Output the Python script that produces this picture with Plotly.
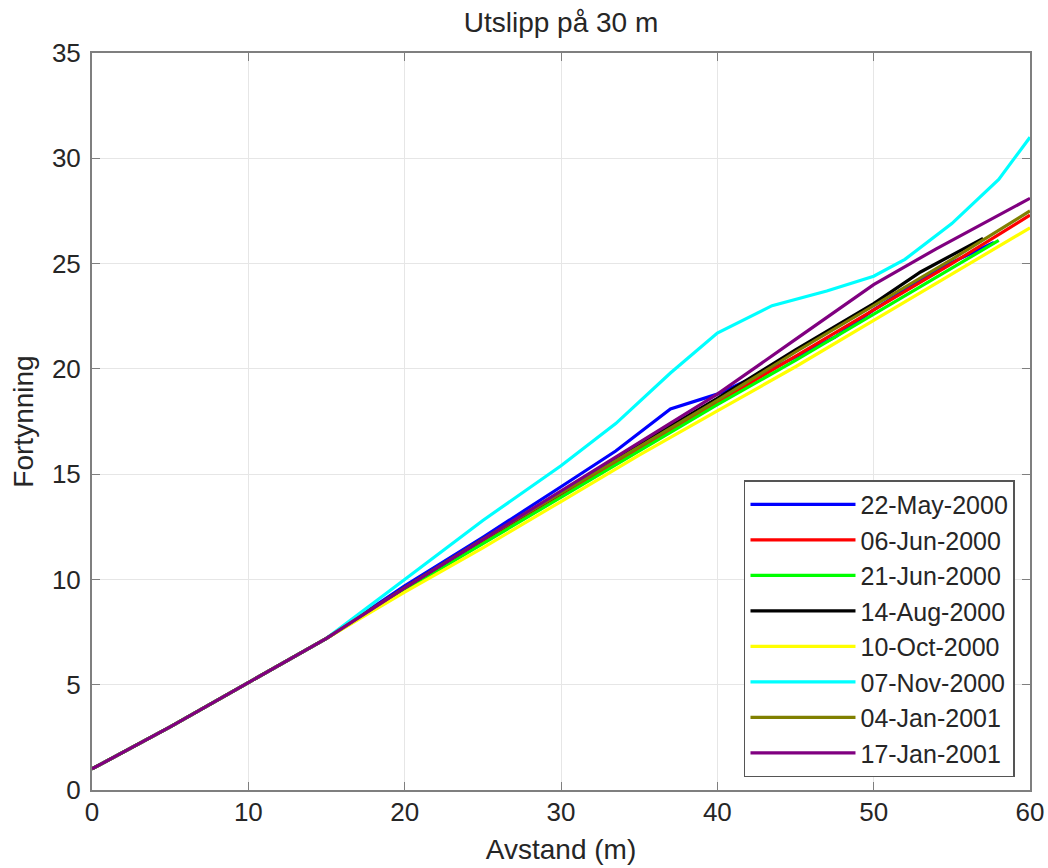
import plotly.graph_objects as go

title = "Utslipp på 30 m"
x_title = "Avstand (m)"
y_title = "Fortynning"

names = ["22-May-2000", "06-Jun-2000", "21-Jun-2000", "14-Aug-2000",
         "10-Oct-2000", "07-Nov-2000", "04-Jan-2001", "17-Jan-2001"]
colors = ["#0000ff", "#ff0000", "#00ff00", "#000000",
          "#ffff00", "#00ffff", "#808000", "#800080"]

x_may = [0, 5, 10, 15, 20, 25, 30, 33.5, 37, 40, 43.5, 47.5, 50, 54, 57.7]
y_may = [1.0, 3.0, 5.1, 7.2, 9.7, 12.0, 14.4, 16.1, 18.1, 18.8, 20.0, 21.5, 22.8, 24.7, 26.0]

x_jun06 = [0, 5, 10, 15, 20, 25, 30, 35, 40, 45, 50, 55, 60]
y_jun06 = [1.0, 3.0, 5.1, 7.2, 9.6, 11.8, 14.0, 16.2, 18.4, 20.6, 22.8, 25.0, 27.3]

x_jun21 = [0, 5, 10, 15, 20, 25, 30, 35, 40, 45, 50, 55, 58]
y_jun21 = [1.0, 3.0, 5.1, 7.2, 9.5, 11.7, 13.9, 16.1, 18.3, 20.4, 22.6, 24.8, 26.1]

x_aug = [0, 5, 10, 15, 20, 25, 30, 35, 40, 45, 50, 53, 57]
y_aug = [1.0, 3.0, 5.1, 7.2, 9.6, 11.9, 14.1, 16.4, 18.6, 20.9, 23.1, 24.6, 26.2]

x_oct = [0, 5, 10, 15, 20, 25, 30, 35, 40, 45, 50, 55, 60]
y_oct = [1.0, 3.0, 5.1, 7.2, 9.4, 11.5, 13.7, 15.9, 18.0, 20.1, 22.3, 24.5, 26.7]

x_nov = [0, 5, 10, 15, 20, 25, 30, 33.5, 37, 40, 43.5, 47, 50, 52, 55, 58, 60]
y_nov = [1.0, 3.0, 5.1, 7.2, 10.0, 12.8, 15.4, 17.4, 19.8, 21.7, 23.0, 23.7, 24.4, 25.2, 26.9, 29.0, 31.0]

x_jan04 = [0, 5, 10, 15, 20, 25, 30, 35, 40, 45, 50, 55, 60]
y_jan04 = [1.0, 3.0, 5.1, 7.2, 9.6, 11.9, 14.1, 16.3, 18.5, 20.8, 23.0, 25.2, 27.5]

x_jan17 = [0, 5, 10, 15, 20, 25, 30, 35, 40, 45, 50, 54, 57, 60]
y_jan17 = [1.0, 3.0, 5.1, 7.2, 9.6, 11.9, 14.2, 16.5, 18.8, 21.4, 24.0, 25.7, 26.9, 28.1]

xs = [x_may, x_jun06, x_jun21, x_aug, x_oct, x_nov, x_jan04, x_jan17]
ys = [y_may, y_jun06, y_jun21, y_aug, y_oct, y_nov, y_jan04, y_jan17]

x_ticks = [0, 10, 20, 30, 40, 50, 60]
y_ticks = [0, 5, 10, 15, 20, 25, 30, 35]

font_family = "Liberation Sans, Arial, sans-serif"
txt = "#262626"

fig = go.Figure()
for n, c, xv, yv in zip(names, colors, xs, ys):
    fig.add_trace(go.Scatter(x=xv, y=yv, mode="lines", name=n,
                             line=dict(color=c, width=3.2)))

axis_common = dict(showgrid=True, gridcolor="#e6e6e6", gridwidth=1,
                   showline=True, linecolor="#7f7f7f", linewidth=2, mirror="ticks",
                   ticks="inside", ticklen=8, tickcolor="#7f7f7f",
                   zeroline=False, automargin=False, ticklabeloverflow="allow",
                   tickfont=dict(family=font_family, size=26, color=txt))

fig.update_layout(
    width=1048, height=868,
    paper_bgcolor="white", plot_bgcolor="white",
    margin=dict(l=92, r=18, t=53, b=78, autoexpand=False),
    title=dict(text=title, x=0.5353, xanchor="center", y=0.9747, yanchor="middle",
               font=dict(family=font_family, size=28, color=txt)),
    xaxis=dict(range=[0, 60], tickvals=x_ticks, ticklabelstandoff=-2,
               title=dict(text=x_title, standoff=13,
                          font=dict(family=font_family, size=28, color=txt)),
               **axis_common),
    yaxis=dict(range=[0, 35], tickvals=y_ticks, ticklabelstandoff=4,
               title=dict(text=y_title, standoff=10,
                          font=dict(family=font_family, size=28, color=txt)),
               **axis_common),
    legend=dict(x=0.984, y=0.0176, xanchor="right", yanchor="bottom",
                bgcolor="white", bordercolor="#555555", borderwidth=1.5,
                font=dict(family=font_family, size=25, color=txt),
                tracegroupgap=0, itemwidth=105),
    showlegend=True,
)

fig.write_html("out.html",
               config={"displayModeBar": False},
               post_script="document.body.style.margin='0';document.body.style.overflow='hidden';")
